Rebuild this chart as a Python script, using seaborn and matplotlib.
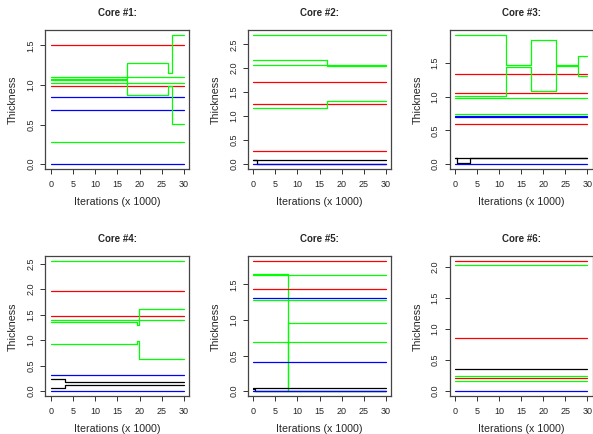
import numpy as np
import pandas as pd
import matplotlib
matplotlib.use("Agg")
import matplotlib.pyplot as plt
from matplotlib.ticker import MultipleLocator, FormatStrFormatter
import seaborn as sns

# one trace = (colour, iterations (x 1000) where the value changes, values)
core1 = [
    ("red", [0], [1.50]),
    ("red", [0], [0.988]),
    ("blue", [0], [0.844]),
    ("blue", [0], [0.683]),
    ("blue", [0], [0.0]),
    ("green", [0], [0.284]),
    ("green", [0], [1.098]),
    ("green", [0], [1.022]),
    ("green", [0, 17.1, 26.4, 27.4], [1.073, 1.276, 1.149, 1.63]),
    ("green", [0, 17.1, 26.4, 27.4], [1.068, 0.869, 0.992, 0.513]),
]
core2 = [
    ("green", [0], [2.69]),
    ("green", [0, 16.8], [2.18, 2.04]),
    ("green", [0], [2.075]),
    ("red", [0], [1.706]),
    ("red", [0], [1.26]),
    ("green", [0, 16.8], [1.18, 1.32]),
    ("red", [0], [0.28]),
    ("black", [0], [0.09]),
    ("black", [0, 0.8], [0.085, 0.005]),
    ("blue", [0], [0.0]),
]
core3 = [
    ("red", [0], [1.342]),
    ("red", [0], [1.049]),
    ("green", [0], [0.975]),
    ("green", [0], [0.751]),
    ("blue", [0], [0.708]),
    ("blue", [0], [0.694]),
    ("red", [0], [0.596]),
    ("green", [0, 11.7, 17.25, 22.9, 27.9], [1.913, 1.475, 1.838, 1.466, 1.61]),
    ("green", [0, 11.7, 17.25, 22.9, 27.9], [1.009, 1.445, 1.083, 1.45, 1.307]),
    ("black", [0], [0.085]),
    ("black", [0, 0.5, 3.4], [0.085, 0.01, 0.085]),
    ("blue", [0], [0.0]),
]
core4 = [
    ("green", [0], [2.54]),
    ("red", [0], [1.96]),
    ("red", [0], [1.47]),
    ("green", [0], [1.39]),
    ("green", [0, 19.5, 19.8], [1.345, 1.30, 1.61]),
    ("green", [0, 19.5, 19.8], [0.917, 0.98, 0.633]),
    ("blue", [0], [0.317]),
    ("black", [0, 3.3], [0.244, 0.18]),
    ("black", [0, 3.3], [0.056, 0.115]),
    ("blue", [0], [0.0]),
]
core5 = [
    ("red", [0], [1.82]),
    ("green", [0, 7.95], [1.645, 0.0]),
    ("green", [0], [1.627]),
    ("green", [0, 7.95], [0.0, 0.962]),
    ("red", [0], [1.434]),
    ("blue", [0], [1.307]),
    ("green", [0], [1.274]),
    ("green", [0], [0.684]),
    ("blue", [0], [0.41]),
    ("black", [0], [0.042]),
    ("black", [0, 0.4], [0.03, 0.0]),
    ("blue", [0], [0.0]),
]
core6 = [
    ("red", [0], [2.086]),
    ("green", [0], [2.027]),
    ("red", [0], [0.86]),
    ("black", [0], [0.357]),
    ("green", [0], [0.249]),
    ("red", [0], [0.205]),
    ("green", [0], [0.157]),
    ("blue", [0], [0.0]),
]
cores = [core1, core2, core3, core4, core5, core6]
titles = ["Core #1:", "Core #2:", "Core #3:", "Core #4:", "Core #5:", "Core #6:"]
n_iter = 30

r_cols = {"red": "#FF0000", "green": "#00FF00", "blue": "#0000FF", "black": "#000000"}

sns.set_style("white")
plt.rcParams["font.family"] = ["Liberation Sans", "DejaVu Sans"]

fig = plt.figure(figsize=(5.93, 4.34), dpi=100)

# axes boxes in pixels: left, top, right, bottom
boxes = [
    (45.3, 30, 189.3, 169.3), (248, 30, 391, 169.3), (449.5, 30, 592.5, 169.3),
    (45.3, 256.3, 189.3, 396.3), (248, 256.3, 391, 396.3), (449.5, 256.3, 592.5, 396.3),
]
W, H = 593, 434

for core, title, (l, t, r, b) in zip(cores, titles, boxes):
    ax = fig.add_axes([l / W, 1 - b / H, (r - l) / W, (b - t) / H])
    rows = []
    palette = {}
    for k, (col, xs, vs) in enumerate(core):
        tid = f"t{k}"
        palette[tid] = r_cols[col]
        ends = xs[1:] + [n_iter]
        for x0, x1, v in zip(xs, ends, vs):
            rows.append((tid, x0, v))
            rows.append((tid, x1, v))
    df = pd.DataFrame(rows, columns=["trace", "iter", "value"])
    sns.lineplot(data=df, x="iter", y="value", hue="trace", palette=palette,
                 estimator=None, sort=False, legend=False, linewidth=0.9, ax=ax)
    ax.margins(x=0.04, y=0.04)
    ax.xaxis.set_major_locator(MultipleLocator(5))
    ax.yaxis.set_major_locator(MultipleLocator(0.5))
    ax.yaxis.set_major_formatter(FormatStrFormatter("%.1f"))
    ax.tick_params(axis="both", direction="out", length=3.5, width=0.7,
                   color="#333333", labelsize=6.5, bottom=True, left=True)
    ax.tick_params(axis="x", pad=4)
    ax.tick_params(axis="y", pad=3.5, labelrotation=90)
    for lab in ax.get_yticklabels():
        lab.set_va("center")
    for s in ax.spines.values():
        s.set_color("#444444")
        s.set_linewidth(0.9)
    ax.set_title(title, fontsize=7, fontweight="bold", pad=10)
    ax.set_xlabel("Iterations (x 1000)", fontsize=7.7, labelpad=6)
    ax.set_ylabel("Thickness", fontsize=7.7, labelpad=6)

fig.savefig("out.png", dpi=100)
